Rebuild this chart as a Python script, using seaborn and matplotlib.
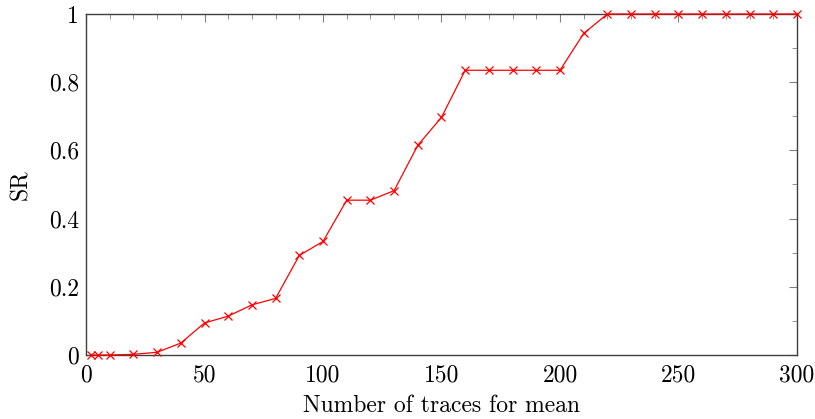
import matplotlib
matplotlib.use("Agg")
import matplotlib.pyplot as plt
import seaborn as sns
import pandas as pd
from matplotlib.ticker import MultipleLocator, FuncFormatter

traces = [2, 5, 10, 20, 30, 40, 50, 60, 70, 80, 90, 100, 110, 120, 130, 140, 150,
          160, 170, 180, 190, 200, 210, 220, 230, 240, 250, 260, 270, 280, 290, 300]
sr = [0.0, 0.0, 0.0, 0.002, 0.008, 0.035, 0.094, 0.114, 0.147, 0.166, 0.292, 0.333,
      0.454, 0.454, 0.482, 0.615, 0.697, 0.835, 0.835, 0.835, 0.835, 0.835, 0.943,
      1.0, 1.0, 1.0, 1.0, 1.0, 1.0, 1.0, 1.0, 1.0]
x_ticks = [0, 50, 100, 150, 200, 250, 300]
y_ticks = [0, 0.2, 0.4, 0.6, 0.8, 1.0]
x_label = "Number of traces for mean"
y_label = "SR"

sns.set_style("white")
plt.rcParams["font.family"] = ["serif"]
plt.rcParams["font.serif"] = ["cmr10", "DejaVu Serif"]
plt.rcParams["axes.formatter.use_mathtext"] = True
plt.rcParams["mathtext.fontset"] = "cm"

df = pd.DataFrame({"x": traces, "y": sr})

fig = plt.figure(figsize=(8.15, 4.19), dpi=100)
ax = fig.add_axes([86 / 815, 64 / 419, 711 / 815, 341 / 419])
sns.lineplot(data=df, x="x", y="y", ax=ax, color="red", marker="x",
             markersize=6, markeredgewidth=0.9, markeredgecolor="red",
             linewidth=0.9, clip_on=False, zorder=5)

ax.set_xlim(0, 300)
ax.set_ylim(0, 1)
ax.set_xticks(x_ticks)
ax.set_yticks(y_ticks)
ax.xaxis.set_minor_locator(MultipleLocator(10))
ax.yaxis.set_minor_locator(MultipleLocator(0.1))

def fmt(v, pos):
    if abs(v - round(v)) < 1e-9:
        return str(int(round(v)))
    return f"{v:g}"

ax.xaxis.set_major_formatter(FuncFormatter(fmt))
ax.yaxis.set_major_formatter(FuncFormatter(fmt))

ax.tick_params(which="both", direction="in", top=True, right=True,
               color="#808080", labelsize=17, labelcolor="black")
ax.tick_params(which="major", length=6, width=0.8)
ax.tick_params(which="minor", length=3.5, width=0.6)
ax.tick_params(axis="x", pad=7)
ax.tick_params(axis="y", pad=5)
for s in ax.spines.values():
    s.set_color("#404040")
    s.set_linewidth(1.0)

ax.set_xlabel(x_label, fontsize=17, labelpad=6, color="black")
ax.set_ylabel(y_label, fontsize=17, labelpad=12, color="black")

fig.savefig("out.png", dpi=100)
